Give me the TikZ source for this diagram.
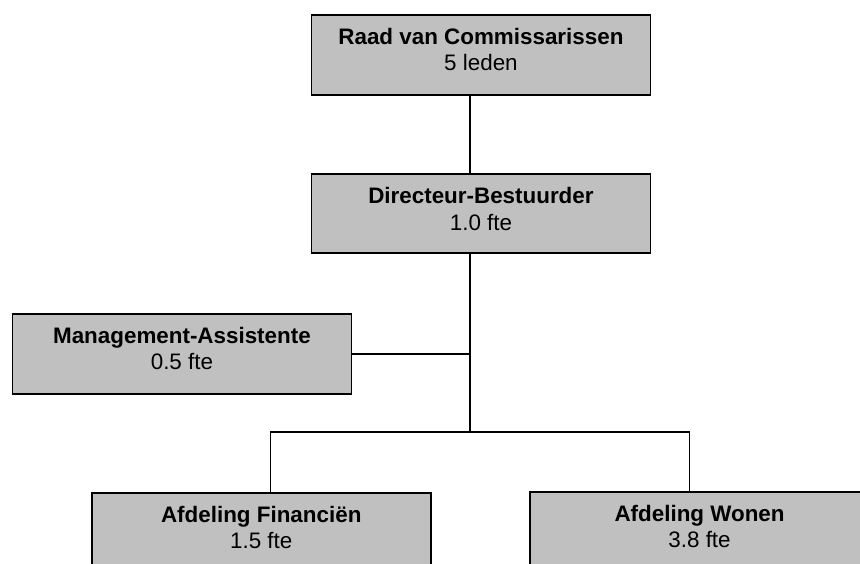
\documentclass[tikz,border=0pt]{standalone}
\usepackage{fontspec}
\setmainfont{Liberation Sans}
\usetikzlibrary{calc}
\definecolor{boxgray}{HTML}{C0C0C0}
\tikzset{
  orgbox/.style={draw=black, fill=boxgray, line width=1.5pt, rectangle, inner sep=0pt,
    minimum width=339pt, minimum height=80pt, anchor=north west},
  boxtxt/.style={anchor=base, inner sep=0pt, font=\fontsize{22.4}{26}\selectfont},
  conn/.style={draw=black, line width=1.5pt}
}
\begin{document}
\begin{tikzpicture}[x=1pt,y=-1pt]
\clip (0,0) rectangle (860,563);
\fill[white] (0,0) rectangle (860,563);
% boxes
\node[orgbox] (raad) at (310.7,14) {};
\node[orgbox, minimum height=79pt] (dir) at (310.7,173) {};
\node[orgbox] (mgmt) at (11.7,313) {};
\node[orgbox] (fin) at (91,492) {};
\node[orgbox] (won) at (529.3,491) {};
% texts
\node[boxtxt] (raadA) at ($(raad.north)+(0,30.3)$) {\bfseries Raad van Commissarissen};
\node[boxtxt] (raadB) at ($(raad.north)+(0,56.3)$) {5 leden};
\node[boxtxt] (dirA) at ($(dir.north)+(0,30.3)$) {\bfseries Directeur-Bestuurder};
\node[boxtxt] (dirB) at ($(dir.north)+(0,57)$) {1.0 fte};
\node[boxtxt] (mgmtA) at ($(mgmt.north)+(0,30.3)$) {\bfseries Management-Assistente};
\node[boxtxt] (mgmtB) at ($(mgmt.north)+(0,56.3)$) {0.5 fte};
\node[boxtxt] (finA) at ($(fin.north)+(0,30)$) {\bfseries Afdeling Financiën};
\node[boxtxt] (finB) at ($(fin.north)+(0,56)$) {1.5 fte};
\node[boxtxt] (wonA) at ($(won.north)+(0,30.5)$) {\bfseries Afdeling Wonen};
\node[boxtxt] (wonB) at ($(won.north)+(0,56.5)$) {3.8 fte};
% connector points
\coordinate (trunk) at (470,432);
\coordinate (bl) at (270.7,432);
\coordinate (br) at (689.3,432);
% connectors
\draw[conn] (trunk |- raad.south) -- (trunk |- dir.north);
\draw[conn] (trunk |- dir.south) -- (trunk);
\draw[conn] (mgmt.east) -- (mgmt.east -| trunk);
\draw[conn] (bl |- fin.north) -- (bl) -- (br) -- (br |- won.north);
% redraw boxes borders on top
\end{tikzpicture}
\end{document}
